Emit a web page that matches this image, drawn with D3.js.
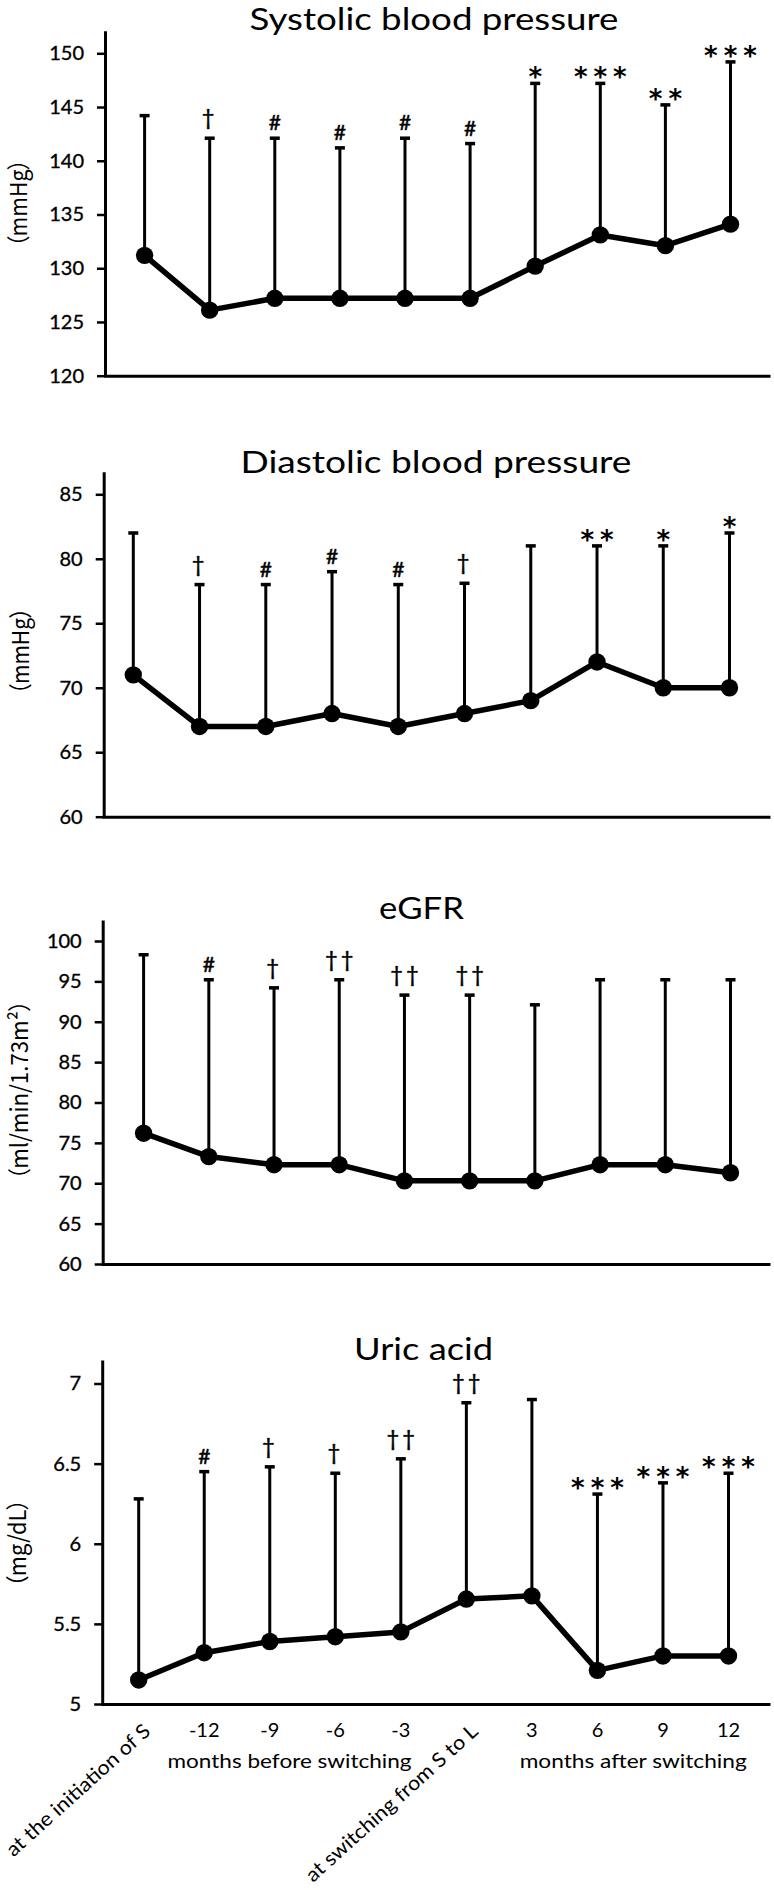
<!DOCTYPE html>
<html><head><meta charset="utf-8">
<script src="https://cdn.jsdelivr.net/npm/d3@7"></script>
<style>
html,body{margin:0;padding:0;background:#fff;}
svg{display:block;}
</style></head><body>
<svg id="chart" width="774" height="1890"></svg>
<script>
// ---------- data ----------
const categories = ["at the initiation of S", "-12", "-9", "-6", "-3", "at switching from S to L", "3", "6", "9", "12"];
const groupLabels = ["months before switching", "months after switching"];

const sbpMean  = [131.2, 126.1, 127.2, 127.2, 127.2, 127.2, 130.2, 133.1, 132.1, 134.1];
const sbpUpper = [144.2, 142.1, 142.1, 141.2, 142.1, 141.6, 147.2, 147.2, 145.2, 149.2];
const sbpMarks = ["", "†", "#", "#", "#", "#", "*", "***", "**", "***"];
const sbpTicks = [120, 125, 130, 135, 140, 145, 150];
const sbpTickLabels = ["120", "125", "130", "135", "140", "145", "150"];

const dbpMean  = [71, 67, 67, 68, 67, 68, 69, 72, 70, 70];
const dbpUpper = [82, 78, 78, 79, 78, 78.1, 81, 81, 81, 82];
const dbpMarks = ["", "†", "#", "#", "#", "†", "", "**", "*", "*"];
const dbpTicks = [60, 65, 70, 75, 80, 85];
const dbpTickLabels = ["60", "65", "70", "75", "80", "85"];

const egfrMean  = [76.2, 73.3, 72.3, 72.3, 70.3, 70.3, 70.3, 72.3, 72.3, 71.3];
const egfrUpper = [98.3, 95.2, 94.2, 95.2, 93.3, 93.3, 92.1, 95.2, 95.2, 95.2];
const egfrMarks = ["", "#", "†", "††", "††", "††", "", "", "", ""];
const egfrTicks = [60, 65, 70, 75, 80, 85, 90, 95, 100];
const egfrTickLabels = ["60", "65", "70", "75", "80", "85", "90", "95", "100"];

const uaMean  = [5.15, 5.32, 5.39, 5.42, 5.45, 5.655, 5.675, 5.21, 5.30, 5.30];
const uaUpper = [6.28, 6.45, 6.48, 6.44, 6.53, 6.88, 6.90, 6.31, 6.38, 6.44];
const uaMarks = ["", "#", "†", "†", "††", "††", "", "***", "***", "***"];
const uaTicks = [5, 5.5, 6, 6.5, 7];
const uaTickLabels = ["5", "5.5", "6", "6.5", "7"];

const titles = ["Systolic blood pressure", "Diastolic blood pressure", "eGFR", "Uric acid"];
const units = ["（mmHg）", "（mmHg）", "（ml/min/1.73m²）", "（mg/dL）"];

// ---------- layout ----------
const panels = [
  {title: titles[0], unit: units[0], mean: sbpMean, upper: sbpUpper, marks: sbpMarks, ticks: sbpTicks, tickLabels: sbpTickLabels,
   yBottom: 375.7, yTopTick: 53.3, axisTop: 30.7, axisX: 105, xFirst: 144.6, xLast: 730.5,
   titleX: 434, titleY: 29.8, titleW: 369, unitX: 17, unitY: 203, unitW: 88, showX: false},
  {title: titles[1], unit: units[1], mean: dbpMean, upper: dbpUpper, marks: dbpMarks, ticks: dbpTicks, tickLabels: dbpTickLabels,
   yBottom: 816.7, yTopTick: 494.3, axisTop: 471.7, axisX: 103.7, xFirst: 133.3, xLast: 729.5,
   titleX: 436, titleY: 473, titleW: 391, unitX: 19, unitY: 651, unitW: 87, showX: false},
  {title: titles[2], unit: units[2], mean: egfrMean, upper: egfrUpper, marks: egfrMarks, ticks: egfrTicks, tickLabels: egfrTickLabels,
   yBottom: 1264, yTopTick: 941, axisTop: 920, axisX: 102.7, xFirst: 143.6, xLast: 730.5,
   titleX: 421.5, titleY: 919, titleW: 85, unitX: 18, unitY: 1090, unitW: 180, showX: false},
  {title: titles[3], unit: units[3], mean: uaMean, upper: uaUpper, marks: uaMarks, ticks: uaTicks, tickLabels: uaTickLabels,
   yBottom: 1704, yTopTick: 1383.5, axisTop: 1360, axisX: 102.2, xFirst: 138.7, xLast: 728.5,
   titleX: 423.5, titleY: 1360, titleW: 139, unitX: 16, unitY: 1543, unitW: 88, showX: true}
];

const svg = d3.select("#chart");
svg.append("rect").attr("width", 774).attr("height", 1890).attr("fill", "#fff");

panels.forEach(p => {
  const g = svg.append("g");
  const x = d3.scalePoint().domain(categories).range([p.xFirst, p.xLast]);
  const y = d3.scaleLinear().domain([p.ticks[0], p.ticks[p.ticks.length - 1]]).range([p.yBottom, p.yTopTick]);
  const yAxisScale = y.copy().domain([p.ticks[0], y.invert(p.axisTop)]).range([p.yBottom, p.axisTop]);

  // y axis
  g.append("g").attr("transform", `translate(${p.axisX},0)`)
    .call(d3.axisLeft(yAxisScale).tickValues(p.ticks)
      .tickFormat(d => p.tickLabels[p.ticks.indexOf(d)])
      .tickSizeInner(8).tickSizeOuter(0).tickPadding(13))
    .call(s => s.select(".domain").attr("stroke", "#000").attr("stroke-width", 3))
    .call(s => s.selectAll(".tick line").attr("stroke", "#000").attr("stroke-width", 2.5))
    .call(s => s.selectAll(".tick text").attr("font-family", "Lato, sans-serif")
      .attr("font-size", 20).attr("fill", "#000").attr("stroke", "#000").attr("stroke-width", 0.35));

  // x axis (line only)
  const xLine = d3.scaleLinear().domain([0, 1]).range([p.axisX - 1.5, 770]);
  g.append("g").attr("transform", `translate(0,${p.yBottom})`)
    .call(d3.axisBottom(xLine).tickValues([]).tickSizeOuter(0))
    .call(s => s.select(".domain").attr("stroke", "#000").attr("stroke-width", 3));

  // title
  g.append("text").attr("x", p.titleX).attr("y", p.titleY)
    .attr("text-anchor", "middle").attr("font-family", "Lato, sans-serif")
    .attr("font-size", 30).attr("fill", "#000")
    .attr("textLength", p.titleW).attr("lengthAdjust", "spacingAndGlyphs")
    .text(p.title);

  // unit label
  g.append("text").attr("transform", `translate(${p.unitX},${p.unitY}) rotate(-90)`)
    .attr("text-anchor", "middle").attr("dominant-baseline", "central")
    .attr("font-family", "'Noto Sans CJK JP', sans-serif").attr("font-size", 23.5).attr("fill", "#000")
    .style("font-feature-settings", "'palt' 1")
    .attr("textLength", p.unitW).attr("lengthAdjust", "spacingAndGlyphs")
    .text(p.unit);

  const idx = d3.range(categories.length);

  // error bars
  g.append("g").selectAll("line").data(idx).join("line")
    .attr("x1", i => x(categories[i])).attr("x2", i => x(categories[i]))
    .attr("y1", i => y(p.mean[i])).attr("y2", i => y(p.upper[i]))
    .attr("stroke", "#000").attr("stroke-width", 3);
  g.append("g").selectAll("line").data(idx).join("line")
    .attr("x1", i => x(categories[i]) - 5).attr("x2", i => x(categories[i]) + 5)
    .attr("y1", i => y(p.upper[i])).attr("y2", i => y(p.upper[i]))
    .attr("stroke", "#000").attr("stroke-width", 3.5);

  // mean line
  const line = d3.line().x(i => x(categories[i])).y(i => y(p.mean[i]));
  g.append("path").datum(idx).attr("d", line)
    .attr("fill", "none").attr("stroke", "#000").attr("stroke-width", 5.5)
    .attr("stroke-linejoin", "round");

  // dots
  g.append("g").selectAll("circle").data(idx).join("circle")
    .attr("cx", i => x(categories[i])).attr("cy", i => y(p.mean[i])).attr("r", 8.7)
    .attr("fill", "#000");

  // significance marks
  g.append("g").selectAll("text").data(idx.filter(i => p.marks[i])).join("text")
    .each(function(i) {
      const m = p.marks[i];
      const t = d3.select(this);
      const cy = y(p.upper[i]);
      const cx = x(categories[i]);
      t.attr("text-anchor", "middle").attr("fill", "#000").text(m);
      if (m[0] === "*") {
        t.attr("font-family", "'DejaVu Sans', sans-serif").attr("font-weight", "bold")
         .attr("font-size", 26).attr("letter-spacing", 6)
         .attr("x", cx + 3).attr("y", cy + 3);
      } else if (m[0] === "#") {
        t.attr("font-family", "Lato, sans-serif").attr("font-size", 21)
         .attr("stroke", "#000").attr("stroke-width", 0.5)
         .attr("x", cx).attr("y", cy - 8);
      } else {
        t.attr("font-family", "Lato, sans-serif").attr("font-size", 22)
         .attr("stroke", "#000").attr("stroke-width", 0.5)
         .attr("letter-spacing", 3)
         .attr("x", cx + (m.length > 1 ? 1.5 : 0)).attr("y", cy - 13);
      }
    });

  if (p.showX) {
    // numeric month labels
    g.append("g").selectAll("text").data(idx.filter(i => categories[i].length <= 3)).join("text")
      .attr("x", i => x(categories[i])).attr("y", p.yBottom + 33)
      .attr("text-anchor", "middle").attr("font-family", "Lato, sans-serif")
      .attr("font-size", 20).attr("fill", "#000")
      .text(i => categories[i]);
    // rotated event labels
    g.append("g").selectAll("text").data(idx.filter(i => categories[i].length > 3)).join("text")
      .attr("transform", i => `translate(${x(categories[i]) + 13},${p.yBottom + 29}) rotate(-42)`)
      .attr("text-anchor", "end").attr("font-family", "Lato, sans-serif")
      .attr("font-size", 20).attr("fill", "#000")
      .attr("textLength", i => i === 0 ? 186 : 224).attr("lengthAdjust", "spacingAndGlyphs")
      .text(i => categories[i]);
    // group labels
    const before = d3.mean([1, 2, 3, 4], i => x(categories[i])) - 13;
    const after = d3.mean([6, 7, 8, 9], i => x(categories[i])) + 3;
    g.append("g").selectAll("text").data([[before, 244], [after, 227]]).join("text")
      .attr("x", d => d[0]).attr("y", p.yBottom + 64)
      .attr("text-anchor", "middle").attr("font-family", "Lato, sans-serif")
      .attr("font-size", 20).attr("fill", "#000")
      .attr("textLength", d => d[1]).attr("lengthAdjust", "spacingAndGlyphs")
      .text((d, k) => groupLabels[k]);
  }
});
</script>
</body></html>
